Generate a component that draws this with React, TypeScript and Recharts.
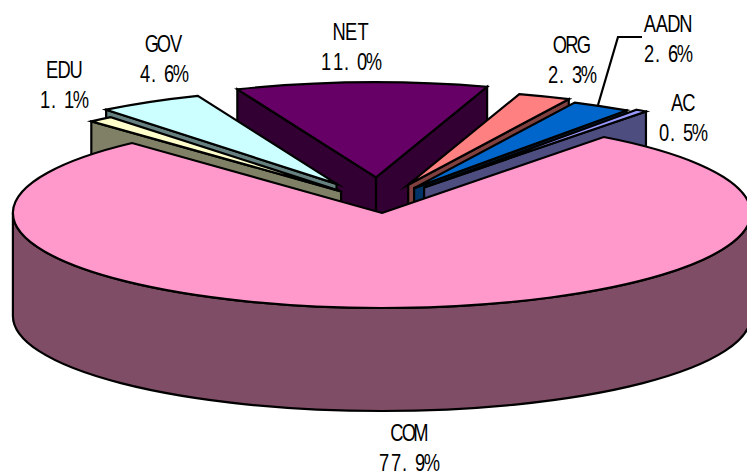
import { PieChart, Pie } from "recharts";

const sliceNames = ["EDU", "GOV", "NET", "ORG", "AADN", "AC", "COM"];
const sliceShares = [1.1, 4.6, 11.0, 2.3, 2.6, 0.5, 77.9];
// how far each wedge is pulled out, as a share of the radius
const explodeShares = [0.162, 0.233, 0.27, 0.207, 0.182, 0.203, 0.105];
const topColors = ["#FFFFCC", "#CCFFFF", "#660066", "#FF8080", "#0066CC", "#9999FF", "#FF99CC"];
const wallColors = ["#808066", "#668080", "#330033", "#804040", "#003366", "#4D4D80", "#804D66"];
// back to front, the wedges overlap each other
const drawOrder = ["NET", "GOV", "EDU", "ORG", "AADN", "AC", "COM"];
const labelSpots = [
  [64, 78],
  [164, 52],
  [351, 40],
  [572, 53],
  [668, 32],
  [683, 111],
  [409, 441],
];

const pieData = sliceNames.map((name, i) => ({ name, share: sliceShares[i] }));

const TILT = 0.2575;
const DEPTH = 103;
const RAD = Math.PI / 180;
const FIRST_ANGLE = 132.6;
const LINE = { stroke: "#000", strokeWidth: 2.2, strokeLinejoin: "miter" as const, strokeMiterlimit: 12 };

// the labels use a half-width look: every character gets a 12px cell and narrow glyphs
const CELL = 12;
const SQUEEZE = 0.78;

function Wedge(props: any) {
  const i = sliceNames.indexOf(props.name ?? props.payload?.name);
  const hi = Math.max(props.startAngle, props.endAngle);
  const lo = Math.min(props.startAngle, props.endAngle);
  const mid = (hi + lo) / 2;
  const rx = props.outerRadius;
  const ry = rx * TILT;
  const cx = props.cx + explodeShares[i] * rx * Math.cos(mid * RAD);
  const cy = props.cy - explodeShares[i] * ry * Math.sin(mid * RAD);
  const at = (deg: number) => [cx + rx * Math.cos(deg * RAD), cy - ry * Math.sin(deg * RAD)];
  const [x1, y1] = at(hi);
  const [x2, y2] = at(lo);
  const large = hi - lo > 180 ? 1 : 0;

  // a cut face only shows when the top of the wedge lies above its edge
  const cutFaceShows = (deg: number) => {
    const dx = Math.cos(deg * RAD) * rx;
    const dy = -Math.sin(deg * RAD) * ry;
    const ix = Math.cos(mid * RAD) * rx;
    const iy = -Math.sin(mid * RAD) * ry;
    return iy < (ix * dy) / dx;
  };
  const cutFace = (deg: number) => {
    const [x, y] = at(deg);
    return `M${cx},${cy} L${x},${y} L${x},${y + DEPTH} L${cx},${cy + DEPTH} Z`;
  };

  // front part of the rim, only the wedge reaching below the centre line has one
  let rim = null;
  if (lo < 0) {
    const [ax, ay] = at(Math.max(lo, -180));
    const [bx, by] = at(Math.min(hi, 0));
    rim = (
      <path
        d={`M${ax},${ay} A${rx},${ry} 0 0 0 ${bx},${by} L${bx},${by + DEPTH} A${rx},${ry} 0 0 1 ${ax},${ay + DEPTH} Z`}
        fill={wallColors[i]}
        {...LINE}
      />
    );
  }

  return (
    <g>
      {cutFaceShows(hi) && <path d={cutFace(hi)} fill={wallColors[i]} {...LINE} />}
      {cutFaceShows(lo) && <path d={cutFace(lo)} fill={wallColors[i]} {...LINE} />}
      {rim}
      <path
        d={`M${cx},${cy} L${x1},${y1} A${rx},${ry} 0 ${large} 1 ${x2},${y2} Z`}
        fill={topColors[i]}
        {...LINE}
      />
    </g>
  );
}

function CellText({ x, y, value }: { x: number; y: number; value: string }) {
  const chars = value.split("");
  const cells = chars.map((c, k) => {
    const centre = x + (k - (chars.length - 1) / 2) * CELL;
    return (c === "." ? centre - 3.5 : centre) / SQUEEZE;
  });
  return (
    <text
      x={cells.join(" ")}
      y={y}
      transform={`scale(${SQUEEZE},1)`}
      fontFamily='"Liberation Sans", Arial, sans-serif'
      fontSize={23.5}
      fill="#000"
      textAnchor="middle"
    >
      {value}
    </text>
  );
}

function SliceLabel(props: any) {
  const i = sliceNames.indexOf(props.name ?? props.payload?.name);
  const [x, y] = labelSpots[i];
  return (
    <g>
      {sliceNames[i] === "AADN" && (
        <polyline points="598,105 618,37 642,37" fill="none" stroke="#000" strokeWidth={2.2} />
      )}
      <CellText x={x} y={y} value={sliceNames[i]} />
      <CellText x={x - 1} y={y + 30} value={`${sliceShares[i].toFixed(1)}%`} />
    </g>
  );
}

export default function App() {
  return (
    <div style={{ position: "absolute", left: 0, top: 0, width: 747, height: 471, background: "#fff" }}>
      <PieChart width={747} height={471} margin={{ top: 0, right: 0, bottom: 0, left: 0 }}>
        {drawOrder.map((layer) => (
          <Pie
            key={layer}
            data={pieData}
            dataKey="share"
            nameKey="name"
            cx={380}
            cy={203}
            outerRadius={369}
            startAngle={FIRST_ANGLE}
            endAngle={FIRST_ANGLE - 360}
            isAnimationActive={false}
            shape={(p: any) => ((p.name ?? p.payload?.name) === layer ? <Wedge {...p} /> : <g />)}
            label={layer === "COM" ? (p: any) => <SliceLabel {...p} /> : false}
            labelLine={false}
          />
        ))}
      </PieChart>
    </div>
  );
}
